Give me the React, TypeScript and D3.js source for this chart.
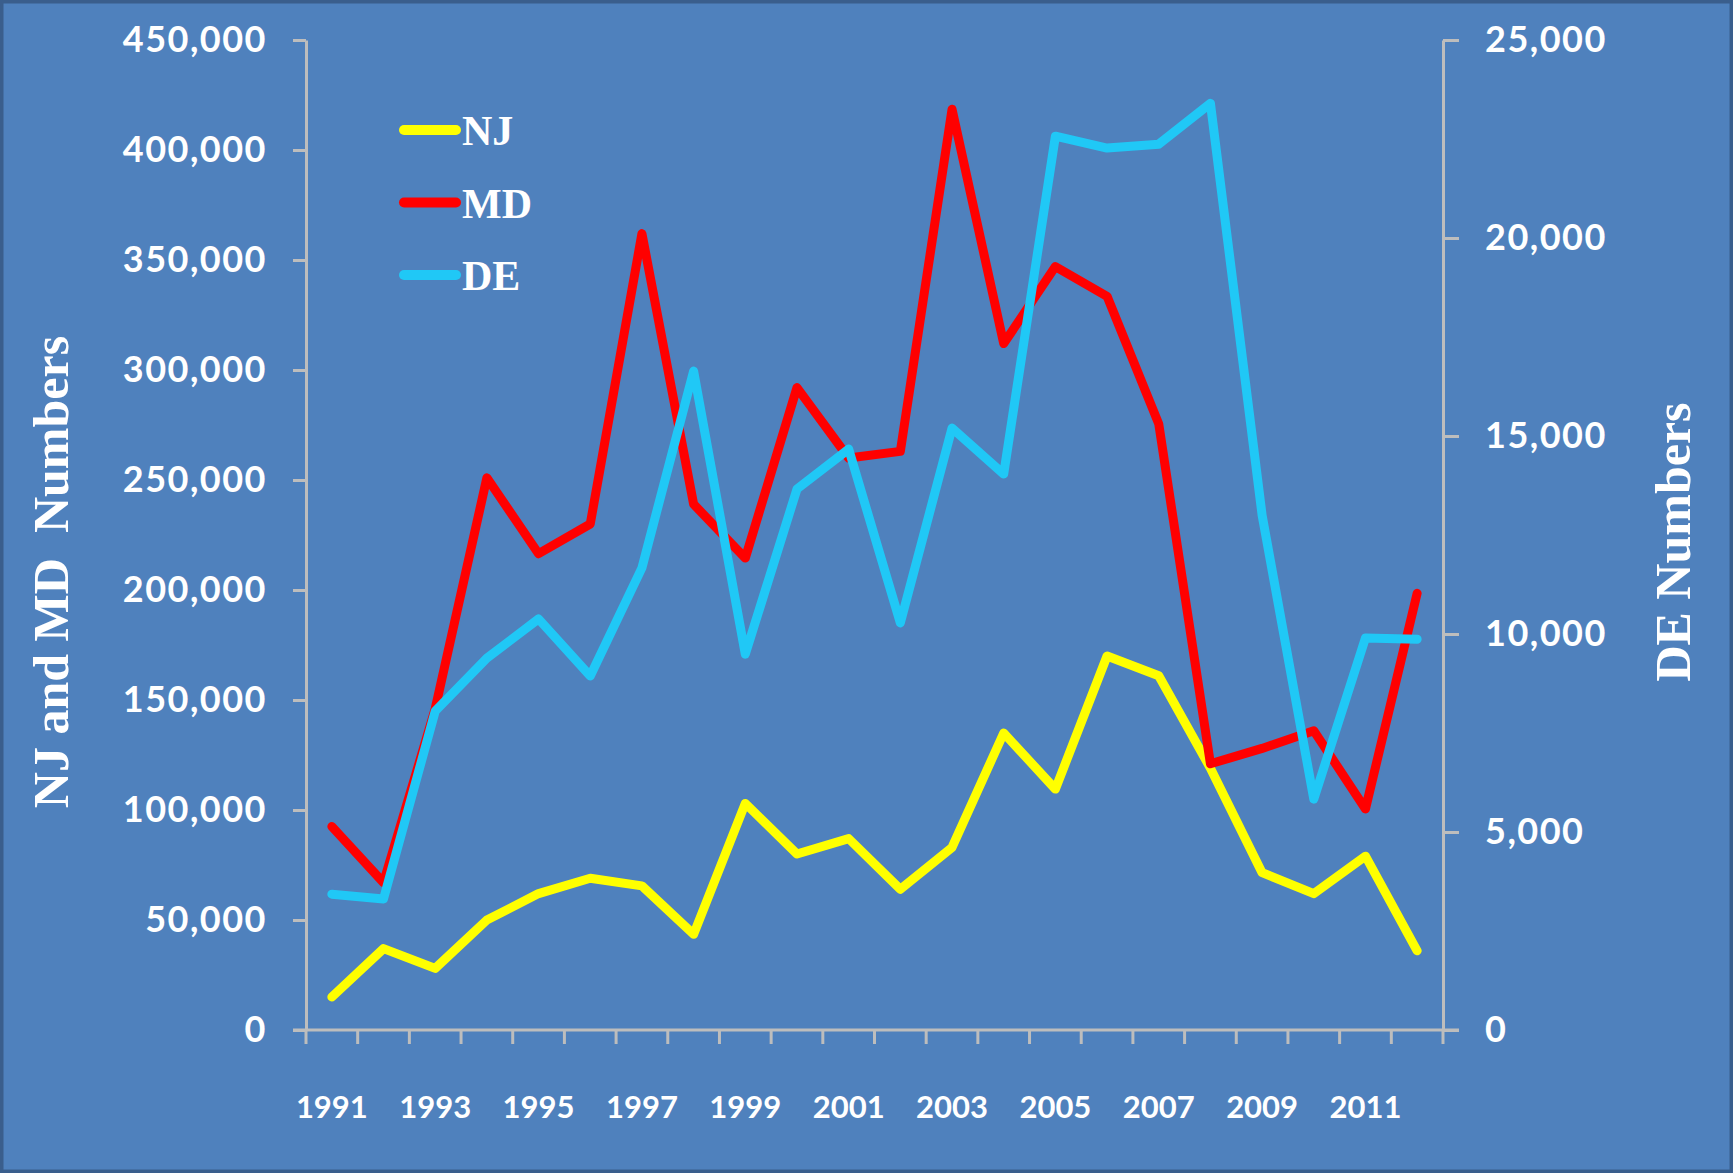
import React, { useEffect, useRef } from 'react';
import * as d3 from 'd3';

const YEARS = [1991, 1992, 1993, 1994, 1995, 1996, 1997, 1998, 1999, 2000, 2001,
  2002, 2003, 2004, 2005, 2006, 2007, 2008, 2009, 2010, 2011, 2012];

// NJ and MD on the left axis
const NJ = [15000, 37000, 28000, 50000, 62000, 69000, 65500, 43500, 103000, 80000, 87000,
  64000, 83000, 135000, 109500, 170000, 161000, 119000, 71500, 62000, 79000, 36000];
const MD = [92500, 67000, 146000, 251000, 216500, 230000, 362000, 239000, 214500, 292000, 260000,
  263000, 418500, 312000, 347000, 333500, 275500, 121000, 128000, 136000, 100500, 198500];
// DE on the right axis
const DE = [3430, 3310, 8050, 9390, 10380, 8940, 11670, 16640, 9490, 13660, 14670,
  10280, 15200, 14040, 22570, 22270, 22370, 23400, 13000, 5830, 9900, 9870];

const LEFT_TICKS = [0, 50000, 100000, 150000, 200000, 250000, 300000, 350000, 400000, 450000];
const RIGHT_TICKS = [0, 5000, 10000, 15000, 20000, 25000];
const X_LABELS = [1991, 1993, 1995, 1997, 1999, 2001, 2003, 2005, 2007, 2009, 2011];

const SERIES = [
  { name: 'NJ', values: NJ, color: '#FFFF00', axis: 'left' },
  { name: 'MD', values: MD, color: '#FF0000', axis: 'left' },
  { name: 'DE', values: DE, color: '#20C8F6', axis: 'right' },
];

const W = 1733;
const H = 1173;
const PLOT = { left: 306, right: 1443, top: 40, bottom: 1030 };
const AXIS_COLOR = '#BDBDBD';
const TICK_FONT = 'Lato, "Open Sans", sans-serif';
const TITLE_FONT = '"Liberation Serif", "DejaVu Serif", serif';

const App: React.FC = () => {
  const ref = useRef<SVGSVGElement>(null);

  useEffect(() => {
    if (!ref.current) return;
    const svg = d3.select(ref.current);
    svg.selectAll('*').remove();

    // background + border
    svg.append('rect')
      .attr('x', 1.5).attr('y', 1.5)
      .attr('width', W - 3).attr('height', H - 3)
      .attr('fill', '#4F81BD')
      .attr('stroke', '#3A5E8C')
      .attr('stroke-width', 4);

    const x = d3.scaleBand<number>()
      .domain(YEARS)
      .range([PLOT.left, PLOT.right]);
    const cx = (y: number) => (x(y) as number) + x.bandwidth() / 2;

    const yLeft = d3.scaleLinear().domain([0, 450000]).range([PLOT.bottom, PLOT.top]);
    const yRight = d3.scaleLinear().domain([0, 25000]).range([PLOT.bottom, PLOT.top]);

    const fmt = d3.format(',');

    // left axis
    const gl = svg.append('g')
      .attr('transform', `translate(${PLOT.left},0)`)
      .call(d3.axisLeft(yLeft).tickValues(LEFT_TICKS).tickSize(13).tickSizeOuter(0)
        .tickPadding(26).tickFormat(d => fmt(d as number)));

    // right axis
    const gr = svg.append('g')
      .attr('transform', `translate(${PLOT.right},0)`)
      .call(d3.axisRight(yRight).tickValues(RIGHT_TICKS).tickSize(16).tickSizeOuter(0)
        .tickPadding(26).tickFormat(d => fmt(d as number)));

    [gl, gr].forEach(g => {
      g.select('.domain').attr('stroke', AXIS_COLOR).attr('stroke-width', 3);
      g.selectAll('.tick line').attr('stroke', AXIS_COLOR).attr('stroke-width', 3);
      g.selectAll('.tick text')
        .attr('fill', '#fff')
        .attr('font-family', TICK_FONT)
        .attr('font-weight', 700)
        .attr('font-size', 36)
        .attr('letter-spacing', 1.5);
    });

    // bottom axis: ticks on band edges, labels every other year
    const gx = svg.append('g');
    gx.append('line')
      .attr('x1', PLOT.left - 13).attr('x2', PLOT.right + 16)
      .attr('y1', PLOT.bottom).attr('y2', PLOT.bottom)
      .attr('stroke', AXIS_COLOR).attr('stroke-width', 3);
    const edges = [...YEARS.map(y => x(y) as number), x.range()[1]];
    gx.selectAll('line.tk')
      .data(edges)
      .enter()
      .append('line')
      .attr('class', 'tk')
      .attr('x1', d => d).attr('x2', d => d)
      .attr('y1', PLOT.bottom).attr('y2', PLOT.bottom + 14)
      .attr('stroke', AXIS_COLOR).attr('stroke-width', 3);
    gx.selectAll('text')
      .data(X_LABELS)
      .enter()
      .append('text')
      .attr('x', d => cx(d))
      .attr('y', 1118)
      .attr('text-anchor', 'middle')
      .attr('fill', '#fff')
      .attr('font-family', TICK_FONT)
      .attr('font-weight', 700)
      .attr('font-size', 31)
      .text(d => String(d));

    // lines
    SERIES.forEach(s => {
      const ys = s.axis === 'left' ? yLeft : yRight;
      const line = d3.line<number>()
        .x((_, i) => cx(YEARS[i]))
        .y(d => ys(d));
      svg.append('path')
        .datum(s.values)
        .attr('fill', 'none')
        .attr('stroke', s.color)
        .attr('stroke-width', 9)
        .attr('stroke-linejoin', 'round')
        .attr('stroke-linecap', 'round')
        .attr('d', line);
    });

    // legend
    const lg = svg.append('g');
    SERIES.forEach((s, i) => {
      const y = 130 + i * 72.5;
      lg.append('line')
        .attr('x1', 404).attr('x2', 456)
        .attr('y1', y).attr('y2', y)
        .attr('stroke', s.color)
        .attr('stroke-width', 10)
        .attr('stroke-linecap', 'round');
      lg.append('text')
        .attr('x', 462).attr('y', y + 15)
        .attr('fill', '#fff')
        .attr('font-family', TITLE_FONT)
        .attr('font-weight', 700)
        .attr('font-size', 42)
        .text(s.name);
    });

    // axis titles
    svg.append('text')
      .attr('transform', 'translate(68,572) rotate(-90)')
      .attr('text-anchor', 'middle')
      .attr('fill', '#fff')
      .attr('font-family', TITLE_FONT)
      .attr('font-weight', 700)
      .attr('font-size', 50)
      .style('white-space', 'pre')
      .text('NJ and MD  Numbers');

    svg.append('text')
      .attr('transform', 'translate(1690,542) rotate(-90)')
      .attr('text-anchor', 'middle')
      .attr('fill', '#fff')
      .attr('font-family', TITLE_FONT)
      .attr('font-weight', 700)
      .attr('font-size', 50)
      .text('DE Numbers');
  }, []);

  return (
    <div style={{ position: 'absolute', left: 0, top: 0 }}>
      <svg ref={ref} width={W} height={H} style={{ display: 'block' }} />
    </div>
  );
};

export default App;
